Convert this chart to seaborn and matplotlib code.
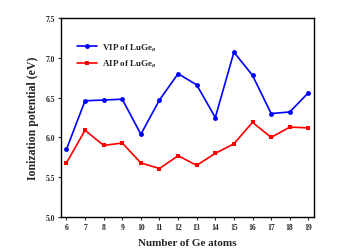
import matplotlib
matplotlib.use("Agg")
import matplotlib.pyplot as plt
import seaborn as sns
import pandas as pd

# number of Ge atoms and ionization potentials (eV)
n_atoms = [6, 7, 8, 9, 10, 11, 12, 13, 14, 15, 16, 17, 18, 19]
vip = [5.85, 6.46, 6.47, 6.48, 6.04, 6.47, 6.80, 6.66, 6.25, 7.07, 6.78, 6.30, 6.32, 6.56]
aip = [5.68, 6.09, 5.90, 5.93, 5.68, 5.61, 5.77, 5.65, 5.80, 5.92, 6.19, 6.00, 6.13, 6.12]

df = pd.DataFrame({"n": n_atoms, "VIP": vip, "AIP": aip})

sns.set_style("ticks")
plt.rcParams["font.family"] = ["Liberation Serif", "DejaVu Serif"]
plt.rcParams["font.weight"] = "bold"
plt.rcParams["mathtext.fontset"] = "stix"

fig = plt.figure(figsize=(3.6, 2.53), dpi=100)
ax = fig.add_axes([0.169, 0.138, 0.703, 0.787])

sns.lineplot(x="n", y="VIP", data=df, color="#0000ff", marker="o", markersize=3.5,
             markeredgewidth=0, linewidth=1.2, label=r"VIP of LuGe$_{\mathit{n}}$", ax=ax)
sns.lineplot(x="n", y="AIP", data=df, color="#ff0000", marker="s", markersize=3.2,
             markeredgewidth=0, linewidth=1.2, label=r"AIP of LuGe$_{\mathit{n}}$", ax=ax)

ax.set_xlim(5.7, 19.3)
ax.set_ylim(5.0, 7.5)
ax.set_xticks(n_atoms)
ax.set_yticks([5.0, 5.5, 6.0, 6.5, 7.0, 7.5])
ax.set_yticklabels(["5.0", "5.5", "6.0", "6.5", "7.0", "7.5"])
ax.tick_params(labelsize=5.5, length=2, width=0.8, pad=2)
for lab in ax.get_xticklabels() + ax.get_yticklabels():
    lab.set_fontweight("bold")
for sp in ax.spines.values():
    sp.set_linewidth(1.0)
    sp.set_color("black")

ax.set_xlabel("Number of Ge atoms", fontsize=8, fontweight="bold", labelpad=5)
ax.set_ylabel("Ionization potential (eV)", fontsize=8.5, fontweight="bold", labelpad=5)

leg = ax.legend(loc="upper left", bbox_to_anchor=(0.05, 0.90), frameon=False,
                fontsize=6.5, handlelength=2.2, handletextpad=0.6,
                labelspacing=0.6, borderaxespad=0)
for t in leg.get_texts():
    t.set_fontweight("bold")

fig.savefig("out.png", dpi=100)
